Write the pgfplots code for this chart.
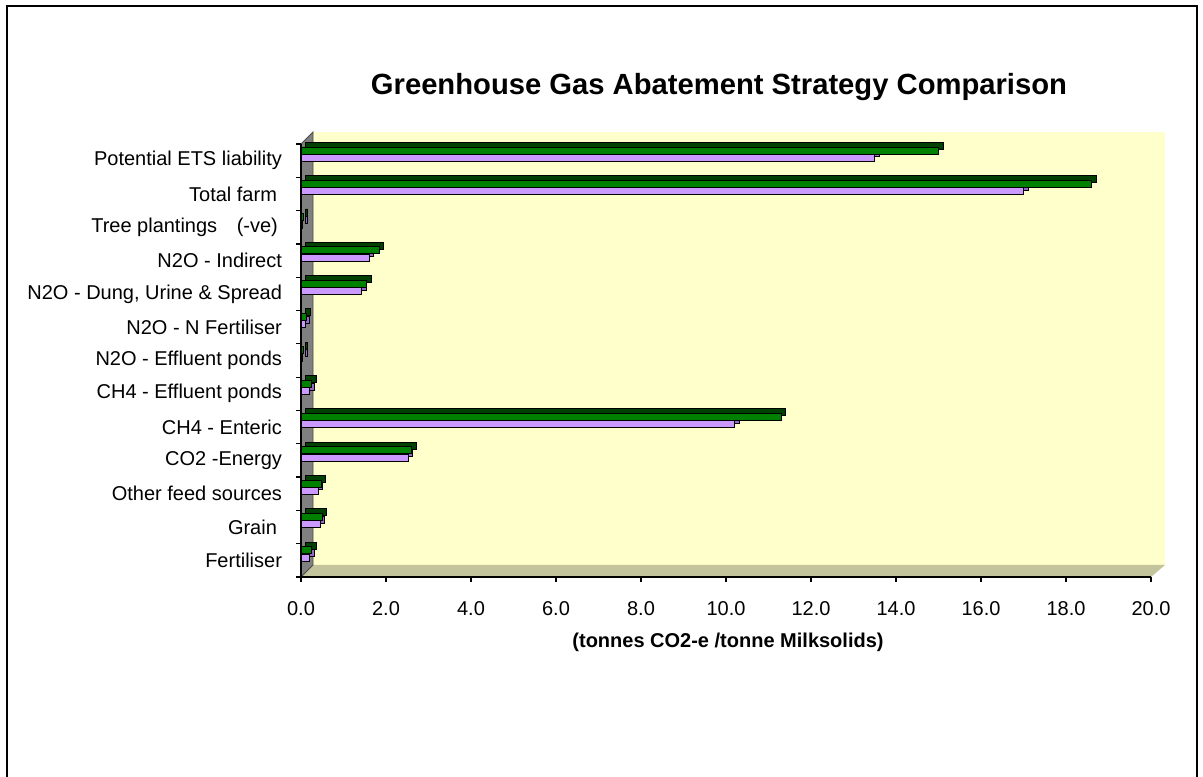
\documentclass[border=0pt]{standalone}
\usepackage{pgfplots}
\pgfplotsset{compat=1.18}
\usepackage{fontspec}
\setmainfont{Liberation Sans}
\definecolor{gfront}{HTML}{008000}
\definecolor{gside}{HTML}{004000}
\definecolor{pfront}{HTML}{CC99FF}
\definecolor{pside}{HTML}{9966CC}
\definecolor{wallyellow}{HTML}{FFFFCC}
\definecolor{floorcol}{HTML}{C4C49C}
\definecolor{wallgray}{HTML}{808080}
\begin{document}
\begin{tikzpicture}
\useasboundingbox (0,0) rectangle (601.5pt,388pt);
\begin{scope}[x=0.5pt,y=-0.5pt,yshift=388pt]
 \fill[wallyellow] (313,132) rectangle (1165,565);
 \fill[floorcol] (301,577) -- (1151,577) -- (1165,565) -- (313,565) -- cycle;
 \fill[wallgray] (301,144) -- (313,132) -- (313,565) -- (301,577) -- cycle;
 \draw[black!70, line width=0.4pt] (301,144) -- (313,132) -- (313,565) -- (301,577);
 \draw[line width=0.7pt] (7,780) -- (7,6) -- (1197,6) -- (1197,780);
 \node[font=\bfseries\fontsize{14.6}{17}\selectfont] at (719,87) {Greenhouse Gas Abatement Strategy Comparison};
 \node[font=\bfseries\fontsize{10}{12}\selectfont] at (728,642) {(tonnes CO2-e /tonne Milksolids)};
\end{scope}
\begin{axis}[at={(150.5pt,99.5pt)}, anchor=south west, scale only axis,
  width=425pt, height=216.5pt,
  xmin=0, xmax=20, ymin=-0.5, ymax=12.5,
  axis x line*=bottom, axis y line*=left,
  axis line style={black, line width=0.6pt},
  xtick={0,2,...,20},
  /pgf/number format/assume math mode=true,
  xticklabel={\pgfmathprintnumber[fixed,fixed zerofill,precision=1]{\tick}},
  ytick={-0.5,0.5,...,12.5},
  yticklabels={Fertiliser,Grain\kern2.5pt,Other feed sources,CO2 -Energy,CH4 - Enteric,CH4 - Effluent ponds,N2O - Effluent ponds,N2O - N Fertiliser,{N2O - Dung, Urine \& Spread},N2O - Indirect,Tree plantings\hspace{7pt} (-ve)\kern2pt,Total farm\kern2.5pt,Potential ETS liability,{}},
  tick align=outside, major tick length=2.5pt,
  tick style={black, line width=0.6pt},
  yticklabel style={yshift=8.33pt, xshift=-3.5pt, font=\fontsize{10}{12}\selectfont},
  xticklabel style={yshift=-6pt, font=\fontsize{10}{12}\selectfont},
  clip=false,
]
\addplot[xbar, bar width=3.5pt, bar shift=1.4pt, fill=pside, draw=black, line width=0.4pt, xshift=2.3pt, yshift=2.3pt] coordinates {
(0.2,0) (0.45,1) (0.4,2) (2.52,3) (10.2,4) (0.2,5) (0.04,6) (0.1,7) (1.43,8) (1.6,9) (0.04,10) (17.0,11) (13.5,12)};
\addplot[xbar, bar width=3.5pt, bar shift=1.4pt, fill=pfront, draw=black, line width=0.4pt] coordinates {
(0.2,0) (0.45,1) (0.4,2) (2.52,3) (10.2,4) (0.2,5) (0.04,6) (0.1,7) (1.43,8) (1.6,9) (0.04,10) (17.0,11) (13.5,12)};
\addplot[xbar, bar width=3.5pt, bar shift=5.1pt, fill=gside, draw=black, line width=0.4pt, xshift=2.3pt, yshift=2.3pt] coordinates {
(0.25,0) (0.5,1) (0.47,2) (2.6,3) (11.3,4) (0.25,5) (0.05,6) (0.12,7) (1.55,8) (1.84,9) (0.05,10) (18.6,11) (15.0,12)};
\addplot[xbar, bar width=3.5pt, bar shift=5.1pt, fill=gfront, draw=black, line width=0.4pt] coordinates {
(0.25,0) (0.5,1) (0.47,2) (2.6,3) (11.3,4) (0.25,5) (0.05,6) (0.12,7) (1.55,8) (1.84,9) (0.05,10) (18.6,11) (15.0,12)};
\end{axis}
\end{tikzpicture}
\end{document}
